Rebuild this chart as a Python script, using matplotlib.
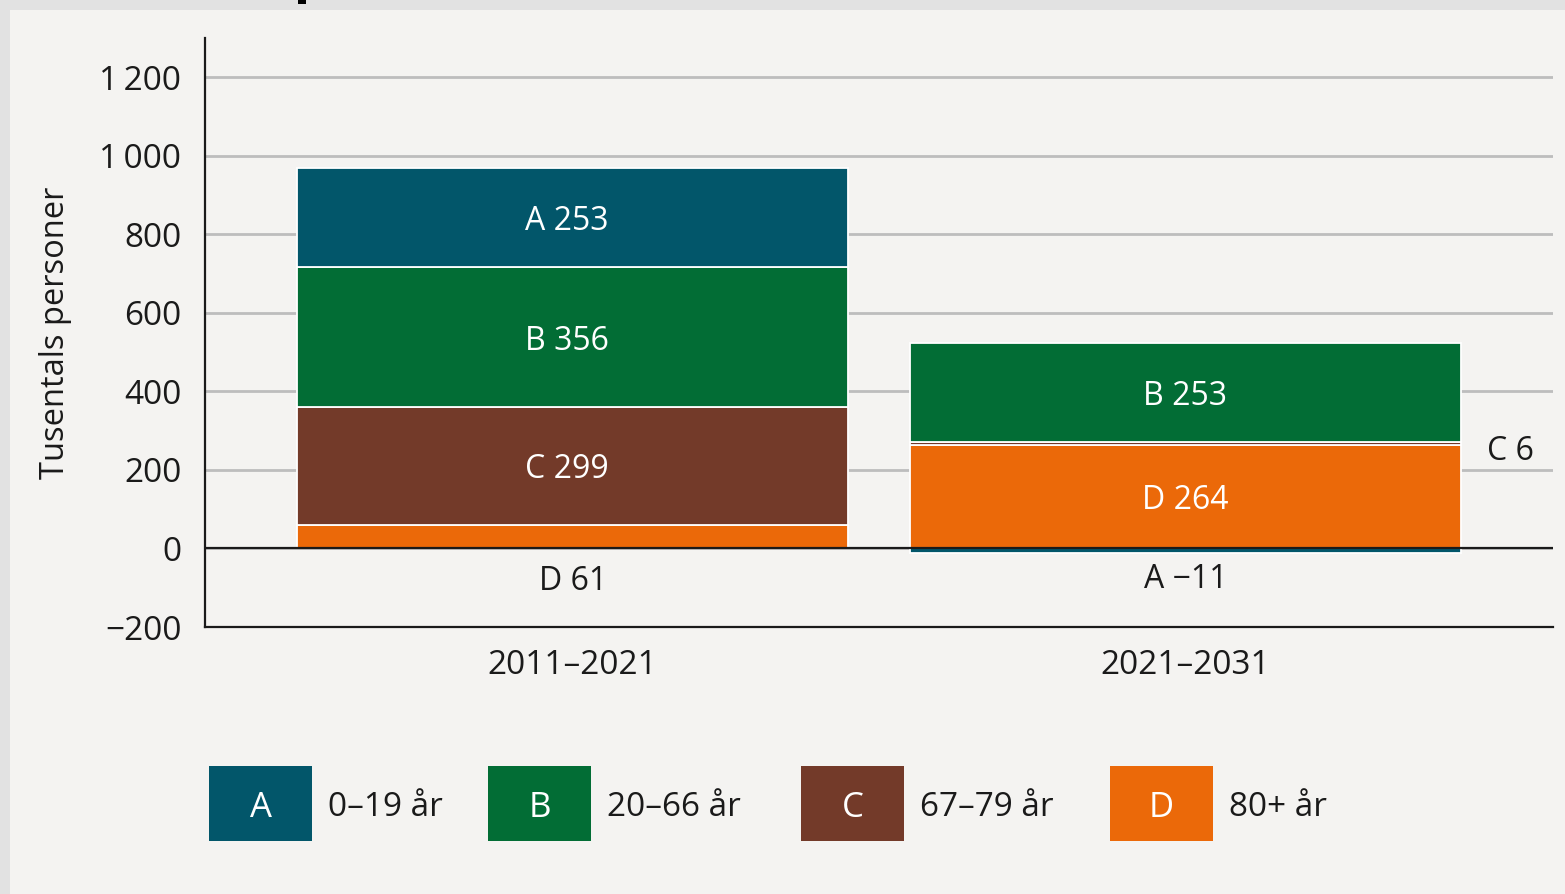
import numpy as np
import matplotlib.pyplot as plt
from matplotlib.patches import Rectangle
from matplotlib.ticker import FuncFormatter

# Data
periods = ["2011–2021", "2021–2031"]
groups = ["A", "B", "C", "D"]
group_labels = ["0–19 år", "20–66 år", "67–79 år", "80+ år"]
vals_A = [253, -11]
vals_B = [356, 253]
vals_C = [299, 6]
vals_D = [61, 264]
colors = {"A": "#02566a", "B": "#026d35", "C": "#733a29", "D": "#eb6909"}

plt.rcParams['font.family'] = ['Open Sans', 'DejaVu Sans']
txt = "#1a1a1a"

W, H = 1565, 894
fig = plt.figure(figsize=(W / 100, H / 100), dpi=100, facecolor="#e2e2e2")

# inner light panel
fig.patches.append(Rectangle((10 / W, 0), 1 - 10 / W, (H - 10) / H,
                             transform=fig.transFigure, facecolor="#f4f3f1",
                             edgecolor="none", zorder=-5))
# tail of the cut-off title
fig.patches.append(Rectangle((298 / W, (H - 4) / H), 8 / W, 4 / H,
                             transform=fig.transFigure, facecolor="black",
                             edgecolor="none", zorder=-4))

ax = fig.add_axes([205 / W, (H - 627) / H, (1553 - 205) / W, (627 - 38) / H])
ax.set_facecolor("none")

x = np.arange(len(periods))
series = {"A": vals_A, "B": vals_B, "C": vals_C, "D": vals_D}
stack_order = ["D", "C", "B", "A"]
pos_bottom = np.zeros(len(periods))
neg_bottom = np.zeros(len(periods))
for g in stack_order:
    v = np.array(series[g], dtype=float)
    bottom = np.where(v >= 0, pos_bottom, neg_bottom)
    ax.bar(x, v, width=0.9, bottom=bottom, color=colors[g],
           edgecolor="white", linewidth=1.3, zorder=2)
    pos_bottom = pos_bottom + np.where(v >= 0, v, 0)
    neg_bottom = neg_bottom + np.where(v < 0, v, 0)

ax.set_xlim(-0.6, 1.6)
ax.set_ylim(-200, 1300)
ax.set_yticks(np.arange(-200, 1201, 200))


def fmt(v, pos):
    s = f"{abs(int(v)):,}".replace(",", "\u2009")
    return ("\u2212" + s) if v < 0 else s


ax.yaxis.set_major_formatter(FuncFormatter(fmt))
ax.grid(axis="y", color="#bdbdbd", linewidth=2, zorder=0)
ax.set_axisbelow(True)
ax.axhline(0, color="#1a1a1a", linewidth=1.6, zorder=3)

for s in ["top", "right"]:
    ax.spines[s].set_visible(False)
for s in ["left", "bottom"]:
    ax.spines[s].set_color("#1a1a1a")
    ax.spines[s].set_linewidth(1.6)

ax.tick_params(axis="y", length=0, pad=17, labelsize=24, labelcolor=txt)
ax.tick_params(axis="x", length=0, pad=16, labelsize=24, labelcolor=txt)
ax.set_xticks(x)
ax.set_xticklabels(periods)
ax.set_ylabel("Tusentals personer", fontsize=23.5, color=txt, labelpad=20)

# labels inside / next to segments
lab_kw = dict(ha="center", va="center_baseline", fontsize=23)
d = np.array(vals_D, dtype=float)
c = np.array(vals_C, dtype=float)
b = np.array(vals_B, dtype=float)
a = np.array(vals_A, dtype=float)
# first period
ax.text(x[0] - 0.01, d[0] + c[0] + b[0] + a[0] / 2, f"A {vals_A[0]}", color="white", **lab_kw)
ax.text(x[0] - 0.01, d[0] + c[0] + b[0] / 2, f"B {vals_B[0]}", color="white", **lab_kw)
ax.text(x[0] - 0.01, d[0] + c[0] / 2, f"C {vals_C[0]}", color="white", **lab_kw)
ax.text(x[0], -74, f"D {vals_D[0]}", color=txt, **lab_kw)
# second period
ax.text(x[1], d[1] + c[1] + b[1] / 2, f"B {vals_B[1]}", color="white", **lab_kw)
ax.text(x[1], d[1] / 2, f"D {vals_D[1]}", color="white", **lab_kw)
ax.text(x[1] + 0.53, d[1] - 6, f"C {vals_C[1]}", color=txt, **lab_kw)
ax.text(x[1], -70, f"A \u2212{abs(vals_A[1])}", color=txt, **lab_kw)

# legend
box_x = [209, 488, 801, 1110]
for gx, g, gl in zip(box_x, groups, group_labels):
    fig.patches.append(Rectangle((gx / W, (H - 841) / H), 103 / W, 75 / H,
                                 transform=fig.transFigure, facecolor=colors[g],
                                 edgecolor="none", zorder=2))
    fig.text((gx + 51.5) / W, (H - 804) / H, g, color="white", fontsize=25,
             ha="center", va="center_baseline", zorder=3)
    fig.text((gx + 119) / W, (H - 804) / H, gl, color=txt, fontsize=24,
             ha="left", va="center_baseline", zorder=3)

fig.savefig("out.png", dpi=100, facecolor=fig.get_facecolor())
